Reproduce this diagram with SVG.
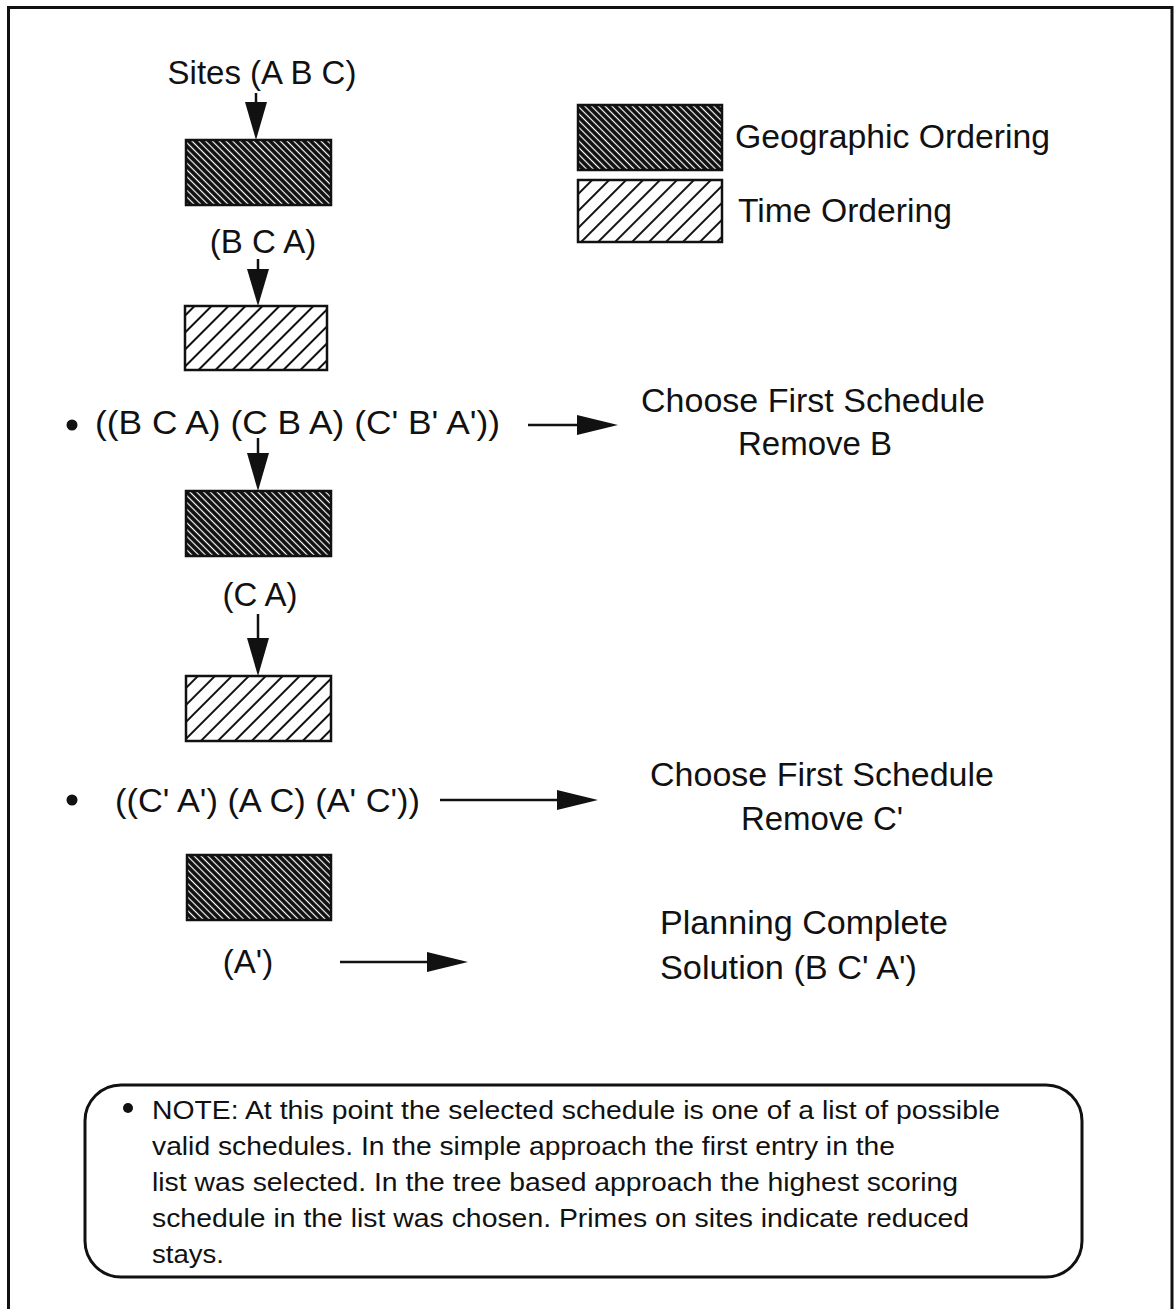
<svg xmlns="http://www.w3.org/2000/svg" width="1175" height="1309" viewBox="0 0 1175 1309">
  <style>
    .t { font-family: "Liberation Sans", Arial, Helvetica, sans-serif; font-size: 33px; fill: #111; }
    .n { font-family: "Liberation Sans", Arial, Helvetica, sans-serif; font-size: 25px; fill: #111; }
    .c { text-anchor: middle; }
    .box { stroke: #111; stroke-width: 2.5; }
    .geo { fill: url(#geoHatch); }
    .time { fill: url(#timeHatch); }
    .conn { stroke: #111; stroke-width: 2.5; fill: none; }
    .head { fill: #111; }
  </style>
  <defs>
    <!-- dense dark hatch: black ground, thin white "\" stripes -->
    <pattern id="geoHatch" patternUnits="userSpaceOnUse" width="10" height="4.8" patternTransform="rotate(45)">
      <rect width="10" height="4.8" fill="#0d0d0d"/>
      <rect y="1.8" width="10" height="1.2" fill="#fff"/>
    </pattern>
    <!-- open light hatch: white ground, thin black "/" stripes -->
    <pattern id="timeHatch" patternUnits="userSpaceOnUse" width="10" height="12" patternTransform="rotate(-45)">
      <rect width="10" height="12" fill="#fff"/>
      <rect y="5" width="10" height="2" fill="#111"/>
    </pattern>
  </defs>

  <rect width="1175" height="1309" fill="#fff"/>

  <!-- outer frame (open at the bottom edge) -->
  <path d="M8.5 1309 V7.5 H1172 V1309" fill="none" stroke="#111" stroke-width="3"/>

  <!-- legend -->
  <g id="legend-geo">
    <rect class="box geo" x="578" y="105" width="144" height="65"/>
    <text class="t" x="735" y="148" font-size="34" textLength="315" lengthAdjust="spacingAndGlyphs">Geographic Ordering</text>
  </g>
  <g id="legend-time">
    <rect class="box time" x="578" y="180" width="144" height="62"/>
    <text class="t" x="738" y="222" font-size="34" textLength="214" lengthAdjust="spacingAndGlyphs">Time Ordering</text>
  </g>

  <!-- process chain -->
  <g id="sites">
    <text class="t c" x="262" y="84" font-size="34">Sites (A B C)</text>
  </g>
  <g id="geo1">
    <rect class="box geo" x="186" y="140" width="145" height="65"/>
  </g>
  <g id="bca">
    <text class="t c" x="263" y="253" font-size="34">(B C A)</text>
  </g>
  <g id="time1">
    <rect class="box time" x="185" y="306" width="142" height="64"/>
  </g>
  <g id="list1">
    <circle cx="72" cy="425" r="5.5" fill="#111"/>
    <text class="t" x="95" y="434" font-size="34" textLength="405" lengthAdjust="spacingAndGlyphs">((B C A) (C B A) (C' B' A'))</text>
  </g>
  <g id="choose1">
    <text class="t c" x="813" y="412" font-size="34" textLength="344" lengthAdjust="spacingAndGlyphs">Choose First Schedule</text>
    <text class="t c" x="815" y="455" font-size="34">Remove B</text>
  </g>
  <g id="geo2">
    <rect class="box geo" x="186" y="491" width="145" height="65"/>
  </g>
  <g id="ca">
    <text class="t c" x="260" y="606" font-size="34">(C A)</text>
  </g>
  <g id="time2">
    <rect class="box time" x="186" y="676" width="145" height="65"/>
  </g>
  <g id="list2">
    <circle cx="72" cy="800" r="5.5" fill="#111"/>
    <text class="t" x="115" y="812" font-size="34" textLength="305" lengthAdjust="spacingAndGlyphs">((C' A') (A C) (A' C'))</text>
  </g>
  <g id="choose2">
    <text class="t c" x="822" y="786" font-size="34" textLength="344" lengthAdjust="spacingAndGlyphs">Choose First Schedule</text>
    <text class="t c" x="822" y="830" font-size="34">Remove C'</text>
  </g>
  <g id="geo3">
    <rect class="box geo" x="187" y="855" width="144" height="65"/>
  </g>
  <g id="a-prime">
    <text class="t c" x="248" y="973" font-size="34">(A')</text>
  </g>
  <g id="complete">
    <text class="t" x="660" y="934" font-size="34" textLength="288" lengthAdjust="spacingAndGlyphs">Planning Complete</text>
    <text class="t" x="660" y="979" font-size="34" textLength="257" lengthAdjust="spacingAndGlyphs">Solution (B C' A')</text>
  </g>

  <!-- connectors -->
  <g id="connectors">
    <line class="conn" x1="256" y1="93" x2="256" y2="110"/>
    <polygon class="head" points="245,102 267,102 256,140"/>

    <line class="conn" x1="258" y1="259" x2="258" y2="275"/>
    <polygon class="head" points="247,269 269,269 258,306"/>

    <line class="conn" x1="258" y1="438" x2="258" y2="460"/>
    <polygon class="head" points="247,453 269,453 258,491"/>

    <line class="conn" x1="258" y1="614" x2="258" y2="645"/>
    <polygon class="head" points="247,638 269,638 258,676"/>

    <line class="conn" x1="528" y1="425" x2="585" y2="425"/>
    <polygon class="head" points="577,415 577,435 618,425"/>

    <line class="conn" x1="440" y1="800" x2="565" y2="800"/>
    <polygon class="head" points="557,790 557,810 598,800"/>

    <line class="conn" x1="340" y1="962" x2="435" y2="962"/>
    <polygon class="head" points="427,952 427,972 468,962"/>
  </g>

  <!-- note panel -->
  <g id="note">
    <rect x="85" y="1085" width="997" height="192" rx="36" ry="36" fill="none" stroke="#111" stroke-width="3"/>
    <circle cx="128" cy="1108" r="5" fill="#111"/>
    <text class="n" x="152" y="1119" textLength="848" lengthAdjust="spacingAndGlyphs">NOTE: At this point the selected schedule is one of a list of possible</text>
    <text class="n" x="152" y="1155" textLength="743" lengthAdjust="spacingAndGlyphs">valid schedules. In the simple approach the first entry in the</text>
    <text class="n" x="152" y="1191" textLength="806" lengthAdjust="spacingAndGlyphs">list was selected. In the tree based approach the highest scoring</text>
    <text class="n" x="152" y="1227" textLength="817" lengthAdjust="spacingAndGlyphs">schedule in the list was chosen. Primes on sites indicate reduced</text>
    <text class="n" x="152" y="1263" textLength="72" lengthAdjust="spacingAndGlyphs">stays.</text>
  </g>
</svg>
